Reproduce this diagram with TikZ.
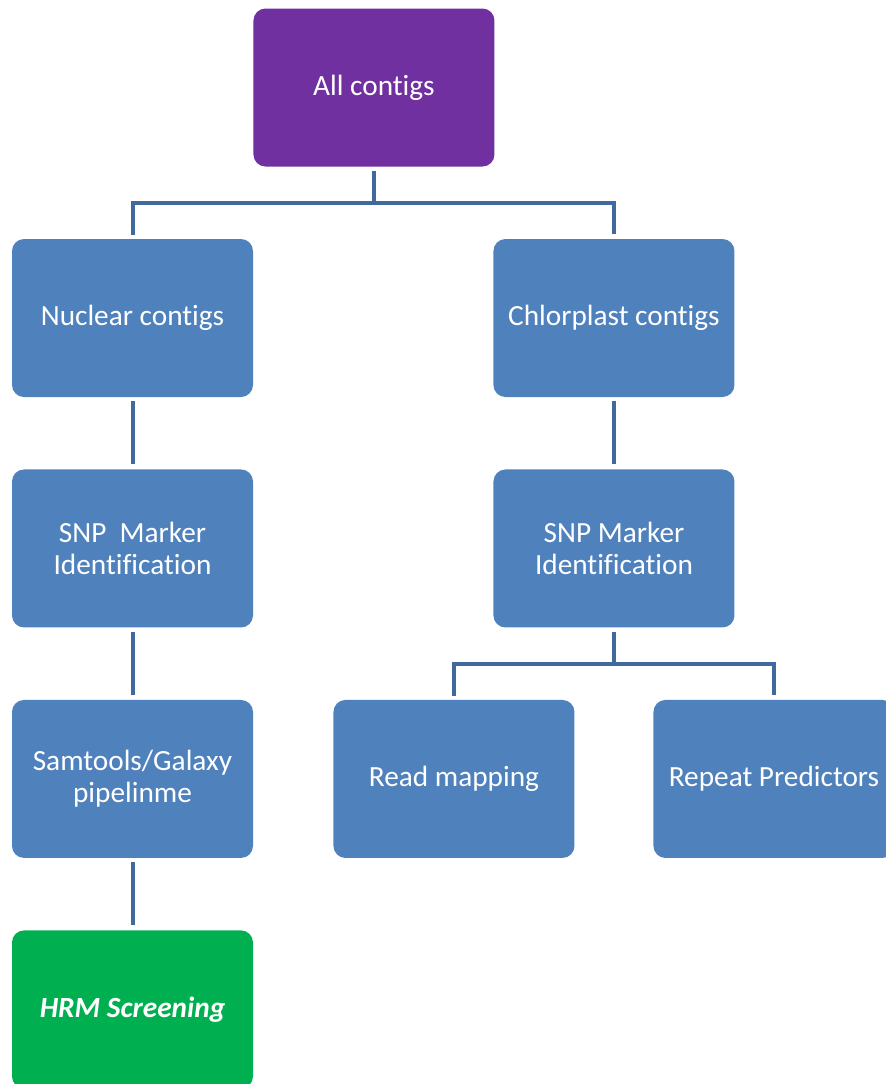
\documentclass[tikz,border=0pt]{standalone}
\usepackage{fontspec}
\setmainfont[Ligatures={NoCommon}]{Carlito}
\usetikzlibrary{positioning, calc}

\definecolor{rootpurple}{HTML}{7030A0}
\definecolor{stepblue}{HTML}{4F81BD}
\definecolor{endgreen}{HTML}{00B050}
\definecolor{linkblue}{RGB}{64,106,158}

\begin{document}
\begin{tikzpicture}[
      node distance=2.16cm and 7.2cm,
      box/.style={rectangle, rounded corners=0.36cm, minimum width=7.23cm, minimum height=4.74cm,
        inner sep=2pt, align=center, text=white, fill=stepblue,
        font=\fontsize{25}{27.5}\selectfont},
      link/.style={draw=linkblue, line width=0.12cm, shorten <=0.12cm, shorten >=0.15cm}
    ]
    \useasboundingbox (0,0) rectangle (26.58,-32.52);

    % left column
    \node[box] (nuclear) at (3.975,-9.54) {Nuclear contigs};
    \node[box, below=of nuclear] (snpleft) {SNP\ \ Marker\\Identification};
    \node[box, below=of snpleft] (samtools) {Samtools/Galaxy\\pipelinme};
    \node[box, below=of samtools, fill=endgreen] (hrm) {\textit{\textbf{HRM Screening}}};

    % root and right column
    \node[box, above right=2.16cm and 0cm of nuclear, fill=rootpurple] (all) {All contigs};
    \node[box, right=of nuclear] (chloro) {Chlorplast contigs};
    \node[box, below=of chloro] (snpright) {SNP Marker\\Identification};
    \node[box, below=of snpright, xshift=-4.8cm] (readmap) {Read mapping};
    \node[box, below=of snpright, xshift=4.8cm] (repeat) {Repeat Predictors};

    % connectors
    \coordinate (fork1) at ($(all.south)+(0,-1.08)$);
    \coordinate (fork2) at ($(snpright.south)+(0,-1.08)$);
    \draw[link, shorten >=0pt] (all.south) -- (fork1);
    \draw[link] (nuclear.north) |- (fork1) -| (chloro.north);
    \draw[link] (nuclear) -- (snpleft);
    \draw[link] (snpleft) -- (samtools);
    \draw[link] (samtools) -- (hrm);
    \draw[link] (chloro) -- (snpright);
    \draw[link, shorten >=0pt] (snpright.south) -- (fork2);
    \draw[link] (readmap.north) |- (fork2) -| (repeat.north);
  \end{tikzpicture}
\end{document}
